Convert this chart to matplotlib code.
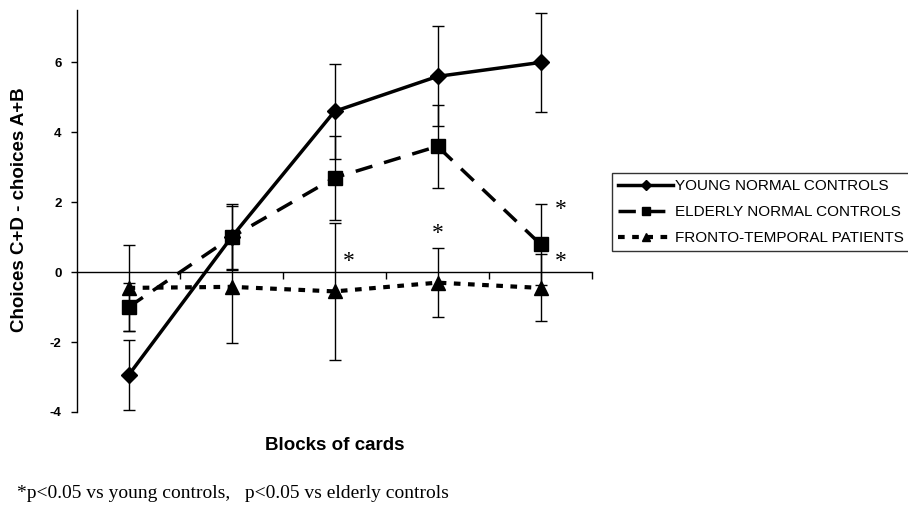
import matplotlib
matplotlib.use("Agg")
import matplotlib.pyplot as plt
import numpy as np

blocks = [1, 2, 3, 4, 5]
young = [-2.95, 1.0, 4.6, 5.6, 6.0]
young_err = [1.0, 0.9, 1.35, 1.43, 1.42]
elderly = [-1.0, 1.0, 2.7, 3.6, 0.8]
elderly_err = [0.68, 0.95, 1.2, 1.18, 1.16]
ftd = [-0.45, -0.42, -0.55, -0.3, -0.45]
ftd_err = [1.22, 1.6, 1.97, 0.98, 0.96]
labels = ["YOUNG NORMAL CONTROLS", "ELDERLY NORMAL CONTROLS", "FRONTO-TEMPORAL PATIENTS"]
star_blocks = [3.14, 4.0, 5.2, 5.2]
star_values = [0.3, 1.12, 1.8, 0.3]

plt.rcParams['font.family'] = ['Liberation Sans', 'DejaVu Sans']
fig = plt.figure(figsize=(9.08, 5.07), dpi=100)
ax = fig.add_axes([77/908, 1-412/507, 515/908, 402/507])

x = np.array(blocks) - 0.5
for vals, errs in [(young, young_err), (elderly, elderly_err), (ftd, ftd_err)]:
    ax.errorbar(x, vals, yerr=errs, fmt='none', ecolor='black', elinewidth=1,
                capsize=4, capthick=1, zorder=2)

l1, = ax.plot(x, young, color='black', lw=2.5, marker='D', markersize=8, zorder=3, label=labels[0])
l2, = ax.plot(x, elderly, color='black', lw=2.5, ls=(0, (5, 3.5)), marker='s', markersize=10, zorder=3, label=labels[1])
l3, = ax.plot(x, ftd, color='black', lw=3, ls=(0, (1.6, 1.8)), marker='^', markersize=10, zorder=3, label=labels[2])

for sb, sv in zip(star_blocks, star_values):
    ax.text(sb - 0.5, sv, '*', fontsize=17, family='Liberation Serif', ha='center', va='center')

ax.set_xlim(0, 5)
ax.set_ylim(-4, 7.5)
ax.spines['top'].set_visible(False)
ax.spines['right'].set_visible(False)
ax.spines['bottom'].set_position(('data', 0))
ax.spines['left'].set_linewidth(1)
ax.spines['bottom'].set_linewidth(1)
ax.set_xticks([1, 2, 3, 4, 5])
ax.set_xticklabels([])
ax.tick_params(axis='x', direction='out', length=5, width=1)
ax.set_yticks([-4, -2, 0, 2, 4, 6])
ax.set_yticklabels(['-4', '-2', '0', '2', '4', '6'], fontsize=9.5, fontweight='bold')
ax.tick_params(axis='y', direction='out', length=4, width=1, pad=7)

fig.text(20/908, 1-210/507, 'Choices C+D - choices A+B', fontsize=13.5, fontweight='bold',
         rotation=90, ha='center', va='center')
fig.text(335/908, 1-446/507, 'Blocks of cards', fontsize=13.5, fontweight='bold', ha='center', va='center')
fig.text(17/908, 1-493/507, '*p<0.05 vs young controls,   p<0.05 vs elderly controls',
         fontsize=14, family='Liberation Serif', ha='left', va='center')

leg = fig.legend(handles=[l1, l2, l3], loc='upper left', bbox_to_anchor=(612/908, 1-173/507),
                 frameon=True, fancybox=False, fontsize=11, handlelength=3.6, handletextpad=0.15,
                 borderpad=0.4, labelspacing=0.78, borderaxespad=0, markerscale=0.6)
leg.get_frame().set_edgecolor('black')
leg.get_frame().set_linewidth(1)

fig.savefig('out.png', dpi=100)
